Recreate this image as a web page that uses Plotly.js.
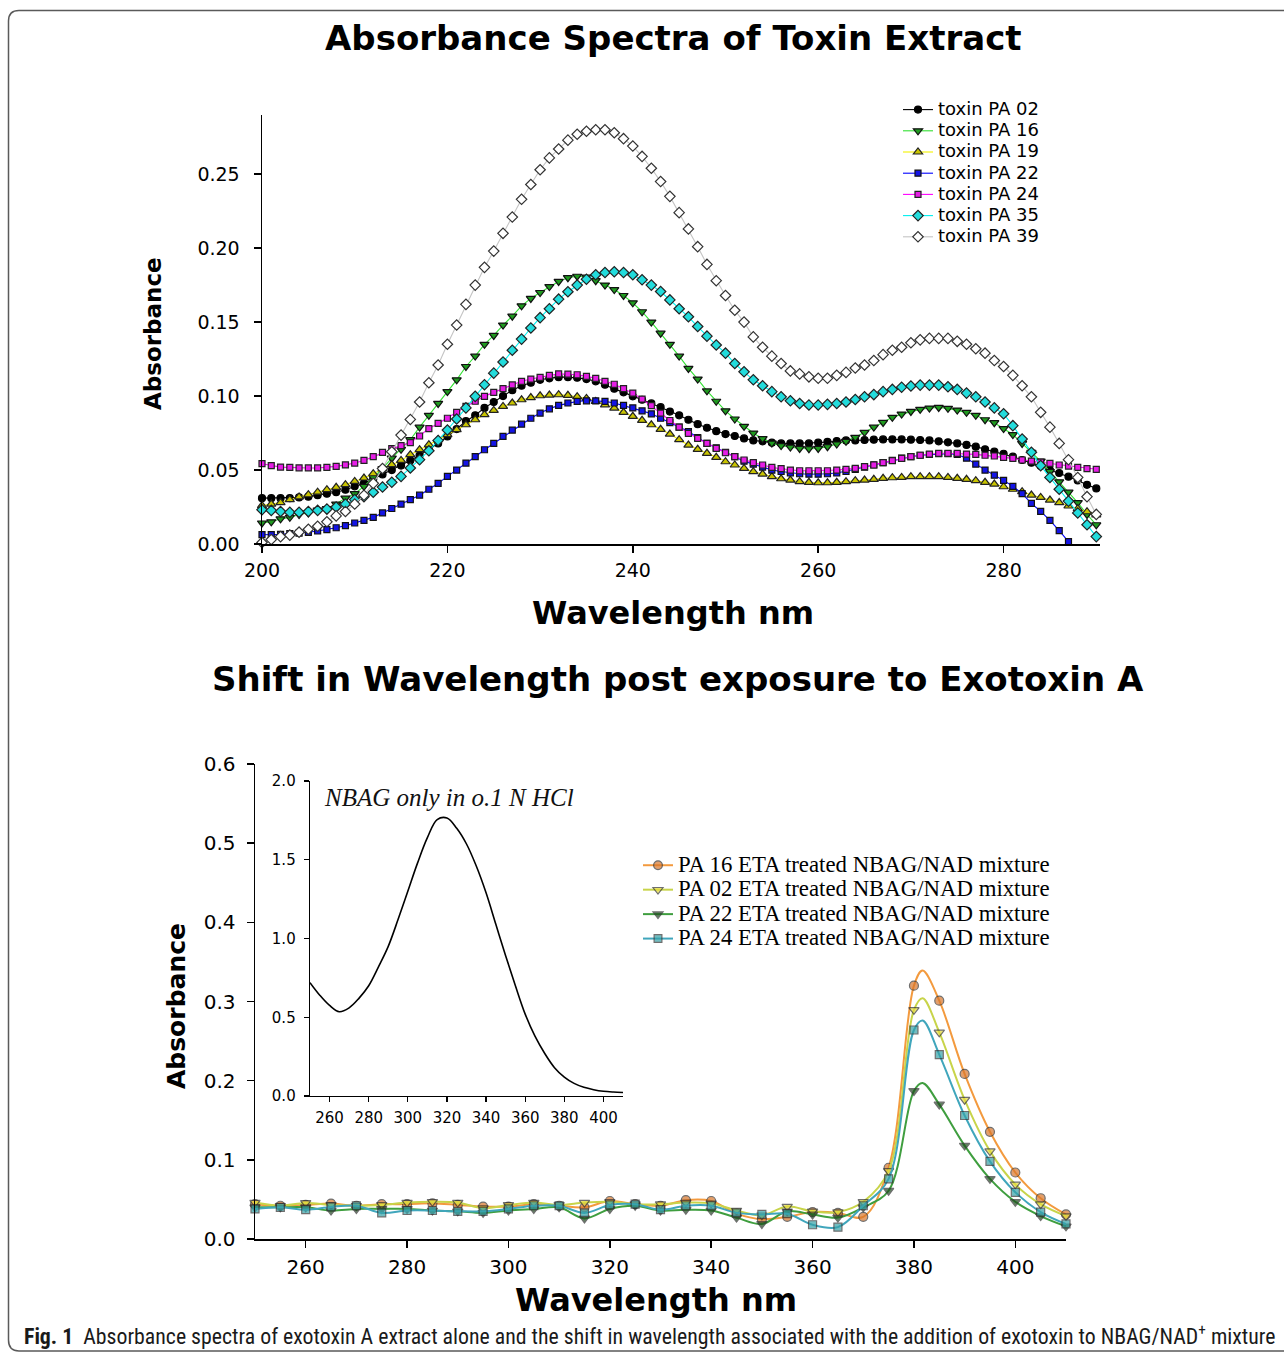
<!DOCTYPE html>
<html><head><meta charset="utf-8">
<script src="https://cdn.plot.ly/plotly-3.0.1.min.js"></script>
<style>html,body{margin:0;padding:0;background:#fff;}#chart{width:1284px;height:1354px;}</style>
</head><body><div id="chart"></div>
<script>
// ---------- Top chart: Absorbance Spectra of Toxin Extract ----------
const wlTop = [200,201,202,203,204,205,206,207,208,209,210,211,212,213,214,215,216,217,218,219,
220,221,222,223,224,225,226,227,228,229,230,231,232,233,234,235,236,237,238,239,
240,241,242,243,244,245,246,247,248,249,250,251,252,253,254,255,256,257,258,259,
260,261,262,263,264,265,266,267,268,269,270,271,272,273,274,275,276,277,278,279,
280,281,282,283,284,285,286,287,288,289,290];

const pa02 = [0.031,0.031,0.031,0.031,0.0315,0.032,0.033,0.034,0.035,0.0367,0.039,0.041,0.044,0.047,0.050,0.053,0.0565,0.060,0.064,0.068,
0.0727,0.0777,0.083,0.087,0.092,0.096,0.100,0.104,0.107,0.109,0.111,0.112,0.1128,0.1128,0.1124,0.1115,0.110,0.1077,0.105,0.1025,
0.0998,0.0975,0.095,0.0925,0.0895,0.087,0.084,0.081,0.0786,0.0763,0.0743,0.073,0.0714,0.070,0.0694,0.0685,0.068,0.068,0.068,0.068,
0.0685,0.069,0.0696,0.070,0.070,0.0703,0.0705,0.0707,0.0707,0.0707,0.0705,0.0703,0.070,0.0694,0.0687,0.068,0.067,0.0658,0.064,0.0624,
0.061,0.059,0.0568,0.055,0.0527,0.050,0.048,0.0455,0.043,0.040,0.0376];

const pa16 = [0.0142,0.015,0.017,0.018,0.020,0.021,0.023,0.024,0.027,0.031,0.034,0.039,0.045,0.051,0.058,0.064,0.0705,0.079,0.087,0.095,
0.103,0.111,0.120,0.127,0.135,0.141,0.148,0.154,0.161,0.166,0.170,0.174,0.1775,0.180,0.181,0.1805,0.178,0.175,0.172,0.168,
0.163,0.157,0.150,0.1425,0.135,0.127,0.1187,0.1115,0.1035,0.0965,0.090,0.0845,0.0795,0.075,0.0712,0.0682,0.0665,0.0655,0.0646,0.0644,
0.0646,0.0658,0.0676,0.0694,0.0721,0.0755,0.079,0.0822,0.0856,0.0878,0.0896,0.091,0.0919,0.0923,0.0917,0.0905,0.089,0.087,0.084,0.082,
0.078,0.074,0.068,0.062,0.056,0.049,0.042,0.035,0.028,0.020,0.013];

const pa19 = [0.026,0.027,0.028,0.030,0.0318,0.0333,0.035,0.0367,0.0383,0.0401,0.0423,0.0446,0.0475,0.0507,0.0536,0.0565,0.0604,0.0638,0.0671,0.0705,
0.0739,0.0773,0.0806,0.084,0.0874,0.0903,0.093,0.0953,0.0975,0.099,0.1002,0.1007,0.1009,0.1005,0.0996,0.0984,0.0964,0.0941,0.0919,0.089,
0.0863,0.0836,0.0806,0.0775,0.0743,0.0705,0.0669,0.064,0.0613,0.0586,0.0556,0.0534,0.0511,0.0489,0.0473,0.0455,0.0441,0.0432,0.0421,0.0417,
0.0414,0.0414,0.0417,0.0421,0.0428,0.0432,0.0437,0.0444,0.0448,0.045,0.0455,0.0455,0.0455,0.0455,0.045,0.0444,0.0437,0.0428,0.0417,0.0405,
0.0387,0.037,0.0354,0.0331,0.0315,0.0297,0.028,0.0257,0.0239,0.0218,0.0196];

const pa22 = [0.0063,0.0063,0.0065,0.007,0.0074,0.0079,0.0088,0.0097,0.011,0.0124,0.0142,0.016,0.018,0.021,0.024,0.027,0.030,0.033,0.037,0.041,
0.0457,0.050,0.0547,0.059,0.0637,0.068,0.0727,0.077,0.081,0.085,0.0885,0.0914,0.0937,0.0953,0.0964,0.0968,0.0968,0.0964,0.0953,0.0937,
0.092,0.090,0.088,0.085,0.082,0.079,0.076,0.072,0.068,0.065,0.062,0.059,0.056,0.054,0.052,0.050,0.049,0.048,0.0475,0.0472,
0.0472,0.0475,0.048,0.049,0.0505,0.052,0.0535,0.055,0.0565,0.058,0.059,0.060,0.0605,0.061,0.061,0.0605,0.058,0.054,0.050,0.0465,
0.043,0.039,0.034,0.0275,0.022,0.016,0.009,0.0016];

const pa24 = [0.0543,0.053,0.052,0.0518,0.0515,0.0514,0.0514,0.0518,0.0525,0.0535,0.0547,0.0565,0.059,0.062,0.0645,0.0665,0.0685,0.073,0.078,0.0815,
0.085,0.089,0.093,0.0965,0.0998,0.1025,0.105,0.1075,0.110,0.1115,0.1126,0.114,0.115,0.1148,0.1144,0.1133,0.112,0.110,0.108,0.105,
0.102,0.098,0.0935,0.0885,0.0835,0.079,0.0748,0.0714,0.068,0.0646,0.0617,0.059,0.0568,0.055,0.0534,0.0518,0.0509,0.050,0.0495,0.0495,
0.0495,0.0495,0.050,0.0505,0.0511,0.0523,0.0534,0.055,0.0563,0.0579,0.059,0.060,0.0608,0.0613,0.0613,0.0613,0.0608,0.0606,0.060,0.0595,
0.0586,0.0579,0.0568,0.056,0.0554,0.0545,0.0534,0.0527,0.0518,0.051,0.0505];

const pa35 = [0.0232,0.0227,0.022,0.0214,0.0214,0.022,0.0227,0.0236,0.025,0.027,0.030,0.032,0.035,0.0385,0.0417,0.0457,0.0514,0.057,0.063,0.070,
0.077,0.0845,0.092,0.0998,0.1077,0.1155,0.123,0.131,0.1385,0.146,0.153,0.159,0.1655,0.1705,0.175,0.179,0.182,0.1835,0.184,0.1835,
0.182,0.1786,0.175,0.1707,0.165,0.159,0.1536,0.147,0.1405,0.1345,0.129,0.122,0.1164,0.111,0.107,0.103,0.0995,0.0968,0.095,0.094,
0.094,0.0944,0.095,0.096,0.0977,0.0995,0.101,0.103,0.1045,0.106,0.1068,0.1074,0.1074,0.1074,0.1063,0.1045,0.102,0.0995,0.096,0.092,
0.088,0.080,0.071,0.062,0.053,0.045,0.037,0.029,0.021,0.013,0.005];

const pa39 = [0.001,0.003,0.005,0.006,0.008,0.010,0.012,0.015,0.019,0.022,0.027,0.033,0.041,0.051,0.0624,0.0736,0.0842,0.096,0.109,0.121,
0.135,0.148,0.162,0.175,0.187,0.198,0.210,0.221,0.233,0.243,0.253,0.261,0.267,0.273,0.277,0.279,0.280,0.280,0.278,0.274,
0.269,0.262,0.254,0.245,0.235,0.224,0.213,0.201,0.189,0.178,0.168,0.158,0.150,0.140,0.133,0.127,0.122,0.117,0.115,0.113,
0.112,0.112,0.114,0.116,0.119,0.121,0.124,0.128,0.131,0.133,0.136,0.138,0.139,0.139,0.139,0.137,0.135,0.132,0.129,0.124,
0.120,0.114,0.107,0.0995,0.089,0.079,0.068,0.057,0.045,0.032,0.020];

const topNames = ['toxin PA 02','toxin PA 16','toxin PA 19','toxin PA 22','toxin PA 24','toxin PA 35','toxin PA 39'];
const topTicksX = [200,220,240,260,280];
const topTicksY = [0,0.05,0.10,0.15,0.20,0.25];

// ---------- Bottom chart: Shift in Wavelength post exposure to Exotoxin A ----------
const wlBot = [250,255,260,265,270,275,280,285,290,295,300,305,310,315,320,325,330,335,340,345,
350,355,360,365,370,375,380,385,390,395,400,405,410];

const etaPA16 = [0.044,0.042,0.043,0.0447,0.042,0.044,0.044,0.045,0.043,0.041,0.041,0.044,0.042,0.040,0.048,0.044,0.042,0.049,0.048,0.032,
0.025,0.028,0.034,0.033,0.028,0.090,0.320,0.301,0.2085,0.1354,0.084,0.0515,0.031];
const etaPA02 = [0.046,0.042,0.0456,0.043,0.042,0.043,0.046,0.047,0.046,0.039,0.043,0.046,0.043,0.046,0.047,0.044,0.044,0.046,0.045,0.036,
0.030,0.041,0.035,0.034,0.047,0.086,0.2895,0.261,0.176,0.111,0.069,0.044,0.029];
const etaPA22 = [0.040,0.040,0.040,0.036,0.038,0.038,0.038,0.036,0.035,0.033,0.036,0.038,0.040,0.026,0.038,0.042,0.036,0.037,0.036,0.027,
0.019,0.035,0.031,0.027,0.040,0.061,0.187,0.170,0.118,0.076,0.047,0.029,0.016];
const etaPA24 = [0.038,0.040,0.037,0.0405,0.042,0.033,0.036,0.036,0.035,0.035,0.038,0.042,0.042,0.033,0.043,0.044,0.037,0.042,0.042,0.033,
0.031,0.032,0.018,0.015,0.042,0.076,0.264,0.233,0.156,0.098,0.059,0.034,0.019];
// apex of each smoothed curve (between the 380 and 385 readings)
const peakWl = 381.7;
const peakAbs = [0.339, 0.304, 0.197, 0.276]; // PA16, PA02, PA22, PA24
const botNames = ['PA 16 ETA treated NBAG/NAD mixture','PA 02 ETA treated NBAG/NAD mixture','PA 22 ETA treated NBAG/NAD mixture','PA 24 ETA treated NBAG/NAD mixture'];
const botTicksX = [260,280,300,320,340,360,380,400];
const botTicksY = [0,0.1,0.2,0.3,0.4,0.5,0.6];

// ---------- Inset: NBAG only in 0.1 N HCl ----------
const nbagOnly = [0.72,0.64,0.575,0.535,0.56,0.62,0.70,0.82,0.95,1.12,1.30,1.48,1.64,1.755,1.765,1.70,1.60,1.46,1.29,1.09,
0.89,0.70,0.52,0.38,0.27,0.18,0.12,0.08,0.055,0.04,0.03,0.025,0.022];
const insetTicksY = [0,0.5,1.0,1.5,2.0];

// ---------- layout helpers (pixel -> paper) ----------
const W = 1284, H = 1354;
const PX = v => v / W, PY = v => 1 - v / H;

const topStyle = [
  {line:'#000000', fill:'#000000', sym:'circle', size:7, edge:'#000000'},
  {line:'#33e033', fill:'#1f9a1f', sym:'triangle-down', size:8, edge:'#111111'},
  {line:'#f2f200', fill:'#c9c400', sym:'triangle-up', size:8, edge:'#222222'},
  {line:'#0000ff', fill:'#1414e6', sym:'square', size:6, edge:'#111111'},
  {line:'#ff00ff', fill:'#e61ee6', sym:'square', size:6, edge:'#222222'},
  {line:'#00f0f0', fill:'#22dcdc', sym:'diamond', size:8, edge:'#222222'},
  {line:'#c4c4c4', fill:'#ffffff', sym:'diamond', size:8, edge:'#333333'}
];
const topSeries = [pa02, pa16, pa19, pa22, pa24, pa35, pa39];
const traces = [];
topSeries.forEach((ys, i) => {
  const s = topStyle[i];
  traces.push({
    type:'scatter', mode:'lines+markers',
    name: '<span style="font-size:18px">' + topNames[i] + '</span>',
    x: wlTop.slice(0, ys.length), y: ys, xaxis:'x', yaxis:'y', legend:'legend',
    cliponaxis:false,
    line:{color:s.line, width:1.1},
    marker:{symbol:s.sym, size:s.size, color:s.fill, line:{color:s.edge, width:1.2}}
  });
});

const botStyle = [
  {line:'#f39a3e', fill:'#d8762a', sym:'circle', size:9},
  {line:'#c8d44a', fill:'#e6dc3c', sym:'triangle-down', size:9},
  {line:'#3f9e3f', fill:'#1d4d1d', sym:'triangle-down', size:9},
  {line:'#40a6bc', fill:'#36a2a8', sym:'square', size:8}
];
const insertAt = wlBot.findIndex(v => v > peakWl);
[etaPA16, etaPA02, etaPA22, etaPA24].forEach((ys, i) => {
  const s = botStyle[i];
  const xs = wlBot.slice(0, insertAt).concat([peakWl], wlBot.slice(insertAt));
  const yv = ys.slice(0, insertAt).concat([peakAbs[i]], ys.slice(insertAt));
  const sizes = xs.map(v => v === peakWl ? 0 : s.size);
  traces.push({
    type:'scatter', mode:'lines+markers',
    name: '<span style="font-size:22.8px">' + botNames[i] + '</span>',
    x: xs, y: yv, xaxis:'x2', yaxis:'y2', legend:'legend2', cliponaxis:false,
    line:{color:s.line, width:2, shape:'spline', smoothing:1.0},
    marker:{symbol:s.sym, size:sizes, color:s.fill, line:{color:'#333333', width:1.2}}
  });
});

traces.push({
  type:'scatter', mode:'lines', name:'NBAG only in o.1 N HCl', showlegend:false,
  x: wlBot, y: nbagOnly, xaxis:'x3', yaxis:'y3',
  line:{color:'#000000', width:1.6, shape:'spline', smoothing:1.0}
});

const axBase = {
  showline:true, linecolor:'#000', linewidth:1.5, ticks:'outside', tickcolor:'#000',
  tickwidth:1.5, ticklen:7, showgrid:false, zeroline:false, fixedrange:true
};

const tickFontTop = {family:'DejaVu Sans, Arial, sans-serif', size:19, color:'#000'};
const tickFontBot = {family:'DejaVu Sans, Arial, sans-serif', size:20, color:'#000'};
const tickFontIn = {family:'DejaVu Sans, Arial, sans-serif', size:15, color:'#000'};

const boldFont = (s) => ({family:'DejaVu Sans, Arial, sans-serif', size:s, color:'#000'});

const layout = {
  width: W, height: H,
  margin:{l:0, r:0, t:0, b:0},
  paper_bgcolor:'#ffffff', plot_bgcolor:'rgba(0,0,0,0)',
  showlegend:true,
  xaxis: Object.assign({}, axBase, {domain:[PX(262), PX(1100)], range:[200, 290.4], anchor:'y',
    tickmode:'array', tickvals: topTicksX, tickfont: tickFontTop, ticklabelstandoff:2}),
  yaxis: Object.assign({}, axBase, {domain:[PY(544), PY(115)], range:[0, 0.29], anchor:'x',
    tickmode:'array', tickvals: topTicksY, tickformat:'.2f', tickfont: tickFontTop, ticklabelstandoff:10}),
  xaxis2: Object.assign({}, axBase, {domain:[PX(255), PX(1066)], range:[250, 410], anchor:'y2',
    tickmode:'array', tickvals: botTicksX, tickfont: tickFontBot, ticklabelstandoff:2}),
  yaxis2: Object.assign({}, axBase, {domain:[PY(1239), PY(764)], range:[0, 0.6], anchor:'x2',
    tickmode:'array', tickvals: botTicksY, tickformat:'.1f', tickfont: tickFontBot, ticklabelstandoff:7}),
  xaxis3: Object.assign({}, axBase, {domain:[PX(310), PX(623)], range:[250, 410], anchor:'y3',
    tickmode:'array', tickvals: botTicksX, tickfont: tickFontIn, ticklen:5, linewidth:1.3, tickwidth:1.3, ticklabelstandoff:3}),
  yaxis3: Object.assign({}, axBase, {domain:[PY(1096), PY(781)], range:[0, 2.0], anchor:'x3',
    tickmode:'array', tickvals: insetTicksY, tickformat:'.1f', tickfont: tickFontIn, ticklen:5, linewidth:1.3, tickwidth:1.3, ticklabelstandoff:5}),
  legend:{x:PX(898), y:PY(94), xanchor:'left', yanchor:'top', bgcolor:'rgba(0,0,0,0)',
    font:{family:'DejaVu Sans, Arial, sans-serif', size:14, color:'#000'}, tracegroupgap:0},
  legend2:{x:PX(638), y:PY(848), xanchor:'left', yanchor:'top', bgcolor:'rgba(0,0,0,0)',
    font:{family:'Liberation Serif, Times New Roman, serif', size:16.5, color:'#000'}, tracegroupgap:0},
  shapes:[{
    type:'path', xref:'paper', yref:'paper', line:{color:'#5a5a5a', width:1.5}, fillcolor:'rgba(0,0,0,0)',
    path: 'M '+PX(1300)+','+PY(1351)+' L '+PX(19)+','+PY(1351)+' Q '+PX(8.5)+','+PY(1351)+' '+PX(8.5)+','+PY(1340)+
          ' L '+PX(8.5)+','+PY(21)+' Q '+PX(8.5)+','+PY(10.5)+' '+PX(19)+','+PY(10.5)+' L '+PX(1300)+','+PY(10.5)
  }],
  annotations:[
    {text:'<b>Absorbance Spectra of Toxin Extract</b>', x:PX(673), y:PY(38), font:boldFont(34)},
    {text:'<b>Wavelength nm</b>', x:PX(673), y:PY(613), font:boldFont(32)},
    {text:'<b>Absorbance</b>', x:PX(153), y:PY(334), textangle:-90, font:boldFont(23)},
    {text:'<b>Shift in Wavelength post exposure to Exotoxin A</b>', x:PX(678), y:PY(679), font:boldFont(34)},
    {text:'<b>Absorbance</b>', x:PX(176), y:PY(1006), textangle:-90, font:boldFont(25)},
    {text:'<b>Wavelength nm</b>', x:PX(656), y:PY(1300), font:boldFont(32)},
    {text:'<i>NBAG only in o.1 N HCl</i>', x:PX(449), y:PY(797),
      font:{family:'Liberation Serif, Times New Roman, serif', size:25, color:'#111'}},
    {text:'<b>Fig. 1</b>&nbsp;&nbsp;Absorbance spectra of exotoxin A extract alone and the shift in wavelength associated with the addition of exotoxin to NBAG/NAD<sup>+</sup> mixture',
      x:PX(22), y:PY(1335), xanchor:'left',
      font:{family:'Liberation Sans Narrow, Roboto Condensed, Liberation Sans, sans-serif', size:21.8, color:'#1a1a1a'}}
  ].map(a => Object.assign({xref:'paper', yref:'paper', showarrow:false, xanchor:'center', yanchor:'middle'}, a))
};

Plotly.newPlot('chart', traces, layout, {displayModeBar:false, staticPlot:true});
</script>
</body></html>
